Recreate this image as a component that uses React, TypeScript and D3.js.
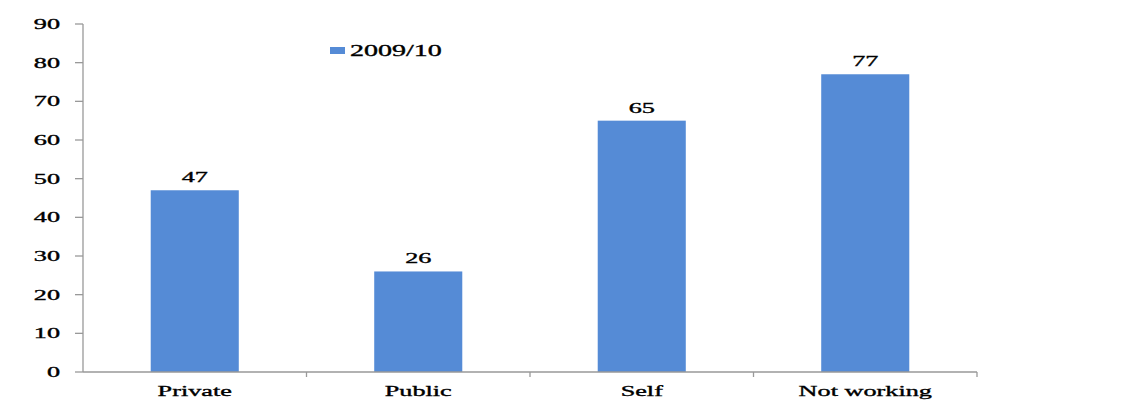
import { useEffect, useRef } from 'react';
import * as d3 from 'd3';

// chart data
const categories = ['Private', 'Public', 'Self', 'Not working'];
const values2009 = [47, 26, 65, 77];
const yTicks = [0, 10, 20, 30, 40, 50, 60, 70, 80, 90];
const seriesName = '2009/10';

const W = 1124;
const H = 406;
const SX = 1.75; // the original text is stretched sideways

const App = () => {
    const ref = useRef<SVGSVGElement | null>(null);

    useEffect(() => {
        const svg = d3.select(ref.current);
        svg.selectAll('*').remove();

        const left = 83, right = 977, top = 24, bottom = 372;
        const x = d3.scaleBand().domain(categories).range([left, right]).paddingInner(0.606).paddingOuter(0.303);
        const band = d3.scaleBand().domain(categories).range([left, right]);
        const y = d3.scaleLinear().domain([0, 90]).range([bottom, top]);

        const font = 'Liberation Serif, Times New Roman, serif';

        // stretched text helper
        const label = (tx: number, ty: number, str: string, size: number, anchor: string) => {
            svg.append('g')
                .attr('transform', `translate(${tx},${ty}) scale(${SX},1)`)
                .append('text')
                .attr('text-anchor', anchor)
                .attr('font-family', font)
                .attr('font-size', size)
                .attr('fill', '#000')
                .attr('stroke', '#000')
                .attr('stroke-width', 0.35)
                .text(str);
        };

        // y axis
        svg.append('line')
            .attr('x1', left).attr('x2', left)
            .attr('y1', y(90)).attr('y2', bottom)
            .attr('stroke', '#999').attr('stroke-width', 1.3);
        yTicks.forEach(t => {
            svg.append('line')
                .attr('x1', left - 8).attr('x2', left)
                .attr('y1', y(t)).attr('y2', y(t))
                .attr('stroke', '#999').attr('stroke-width', 1.3);
            label(60, y(t) + 5, String(t), 15, 'end');
        });

        // bars
        categories.forEach((c, i) => {
            const v = values2009[i];
            svg.append('rect')
                .attr('x', x(c)!)
                .attr('y', y(v))
                .attr('width', x.bandwidth())
                .attr('height', bottom - y(v))
                .attr('fill', '#558bd6');
            label(x(c)! + x.bandwidth() / 2, y(v) - 8, String(v), 15, 'middle');
            label(band(c)! + band.bandwidth() / 2, 396, c, 15, 'middle');
        });

        // x axis
        svg.append('line')
            .attr('x1', left).attr('x2', right)
            .attr('y1', bottom).attr('y2', bottom)
            .attr('stroke', '#999').attr('stroke-width', 1.3);
        categories.forEach(c => {
            const bx = band(c)! + band.bandwidth();
            svg.append('line')
                .attr('x1', bx).attr('x2', bx)
                .attr('y1', bottom).attr('y2', bottom + 5)
                .attr('stroke', '#999').attr('stroke-width', 1.3);
        });

        // legend
        svg.append('rect')
            .attr('x', 330).attr('y', 47).attr('width', 15).attr('height', 7)
            .attr('fill', '#558bd6');
        label(350, 56, seriesName, 16, 'start');

        return () => { svg.selectAll('*').remove(); };
    }, []);

    return (
        <svg ref={ref} width={W} height={H} style={{ position: 'absolute', left: 0, top: 0, background: '#fff' }}></svg>
    );
};

export default App;
